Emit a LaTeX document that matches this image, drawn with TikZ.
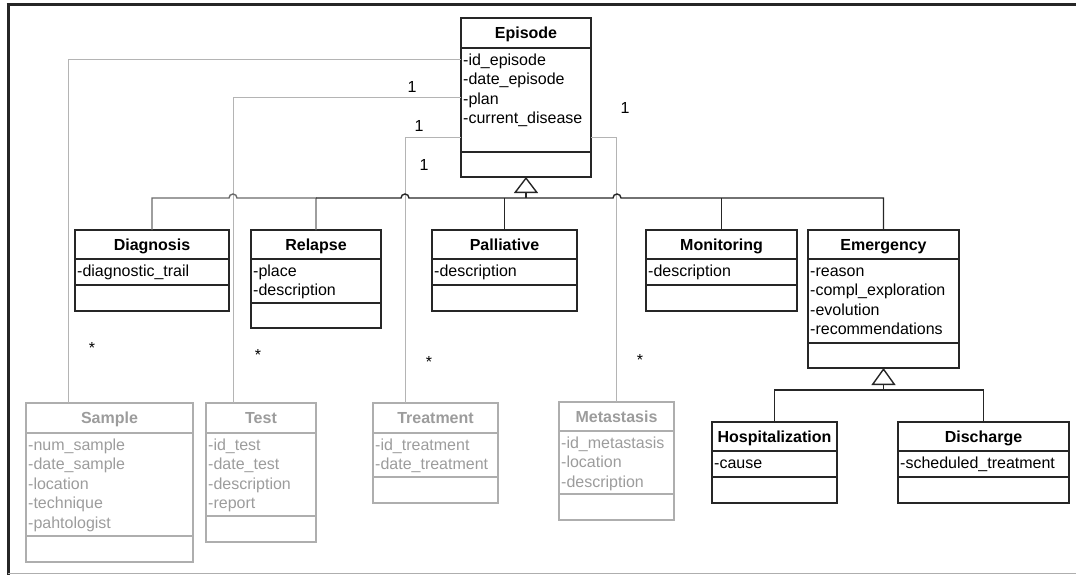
\documentclass[tikz,border=0pt]{standalone}
\usepackage{fontspec}
\setmainfont{Liberation Sans}
\usepackage{tikz}
\usetikzlibrary{arrows.meta}

\definecolor{boxline}{HTML}{262626}
\definecolor{midline}{HTML}{6A6A6A}
\definecolor{greyline}{HTML}{AEAEAE}
\definecolor{greytext}{HTML}{9C9C9C}
\definecolor{assocline}{HTML}{B4B4B4}

\begin{document}
\begin{tikzpicture}[x=1pt,y=-1pt,
  classbox/.style={draw=boxline, line width=1.4pt, inner sep=0pt, outer sep=0pt},
  greybox/.style={draw=greyline, line width=1.3pt, inner sep=0pt, outer sep=0pt},
  classname/.style={anchor=base, inner sep=0pt, font=\fontsize{16}{19.5}\selectfont\bfseries},
  classattr/.style={anchor=north west, align=left, inner sep=0pt, font=\fontsize{16}{19.5}\selectfont},
  mult/.style={inner sep=0pt, font=\fontsize{16}{19.5}\selectfont},
  genline/.style={draw=boxline, line width=1.4pt},
  assoc/.style={draw=assocline, line width=1pt}]
\useasboundingbox (0,0) rectangle (1076,575);
% frame
\draw [line width=3pt, color=boxline] (6.5,5) -- (1076,5);
\draw [line width=3pt, color=boxline] (8,3.5) -- (8,575);
\draw [line width=1pt, color=greyline] (8,573.5) -- (1076,573.5);
% Episode
\node [classbox, minimum width=130pt, minimum height=159pt] (episode) at (526,97.5) {};
\draw [classbox] (461,48) -- (591,48);
\draw [classbox] (461,152) -- (591,152);
\node [classname] (episode-name) at (526,38.5) {Episode};
\node [classattr] (episode-attr) at (463,51.35) {\strut-id\_episode\\-date\_episode\\-plan\\-current\_disease};
% Diagnosis
\node [classbox, minimum width=154pt, minimum height=81pt] (diagnosis) at (152,270.5) {};
\draw [classbox] (75,259) -- (229,259);
\draw [classbox] (75,285) -- (229,285);
\node [classname] (diagnosis-name) at (152,250.5) {Diagnosis};
\node [classattr] (diagnosis-attr) at (77,262.35) {\strut-diagnostic\_trail};
% Relapse
\node [classbox, minimum width=130pt, minimum height=98pt] (relapse) at (316,279) {};
\draw [classbox] (251,259) -- (381,259);
\draw [classbox] (251,303) -- (381,303);
\node [classname] (relapse-name) at (316,250.5) {Relapse};
\node [classattr] (relapse-attr) at (253,262.35) {\strut-place\\-description};
% Palliative
\node [classbox, minimum width=145pt, minimum height=81pt] (palliative) at (504.5,270.5) {};
\draw [classbox] (432,259) -- (577,259);
\draw [classbox] (432,285) -- (577,285);
\node [classname] (palliative-name) at (504.5,250.5) {Palliative};
\node [classattr] (palliative-attr) at (434,262.35) {\strut-description};
% Monitoring
\node [classbox, minimum width=151pt, minimum height=81pt] (monitoring) at (721.5,270.5) {};
\draw [classbox] (646,259) -- (797,259);
\draw [classbox] (646,285) -- (797,285);
\node [classname] (monitoring-name) at (721.5,250.5) {Monitoring};
\node [classattr] (monitoring-attr) at (648,262.35) {\strut-description};
% Emergency
\node [classbox, minimum width=151pt, minimum height=138pt] (emergency) at (883.5,299) {};
\draw [classbox] (808,259) -- (959,259);
\draw [classbox] (808,343) -- (959,343);
\node [classname] (emergency-name) at (883.5,250.5) {Emergency};
\node [classattr] (emergency-attr) at (810,262.35) {\strut-reason\\-compl\_exploration\\-evolution\\-recommendations};
% Hospitalization
\node [classbox, minimum width=125pt, minimum height=81pt] (hospitalization) at (774.5,462.5) {};
\draw [classbox] (712,451) -- (837,451);
\draw [classbox] (712,477) -- (837,477);
\node [classname] (hospitalization-name) at (774.5,442.5) {Hospitalization};
\node [classattr] (hospitalization-attr) at (714,454.35) {\strut-cause};
% Discharge
\node [classbox, minimum width=171pt, minimum height=81pt] (discharge) at (983.5,462.5) {};
\draw [classbox] (898,451) -- (1069,451);
\draw [classbox] (898,477) -- (1069,477);
\node [classname] (discharge-name) at (983.5,442.5) {Discharge};
\node [classattr] (discharge-attr) at (900,454.35) {\strut-scheduled\_treatment};
% Sample
\node [greybox, minimum width=167pt, minimum height=159pt] (sample) at (109.5,482.5) {};
\draw [greybox] (26,433) -- (193,433);
\draw [greybox] (26,536) -- (193,536);
\node [classname, text=greytext] (sample-name) at (109.5,423.5) {Sample};
\node [classattr, text=greytext] (sample-attr) at (28,436.35) {\strut-num\_sample\\-date\_sample\\-location\\-technique\\-pahtologist};
% Test
\node [greybox, minimum width=110pt, minimum height=139pt] (test) at (261,472.5) {};
\draw [greybox] (206,433) -- (316,433);
\draw [greybox] (206,516) -- (316,516);
\node [classname, text=greytext] (test-name) at (261,423.5) {Test};
\node [classattr, text=greytext] (test-attr) at (208,436.35) {\strut-id\_test\\-date\_test\\-description\\-report};
% Treatment
\node [greybox, minimum width=125pt, minimum height=100pt] (treatment) at (435.5,453) {};
\draw [greybox] (373,433) -- (498,433);
\draw [greybox] (373,477) -- (498,477);
\node [classname, text=greytext] (treatment-name) at (435.5,423.5) {Treatment};
\node [classattr, text=greytext] (treatment-attr) at (375,436.35) {\strut-id\_treatment\\-date\_treatment};
% Metastasis
\node [greybox, minimum width=115pt, minimum height=118pt] (metastasis) at (616.5,461) {};
\draw [greybox] (559,431) -- (674,431);
\draw [greybox] (559,494) -- (674,494);
\node [classname, text=greytext] (metastasis-name) at (616.5,422.5) {Metastasis};
\node [classattr, text=greytext] (metastasis-attr) at (561,434.35) {\strut-id\_metastasis\\-location\\-description};
% associations
\draw [assoc] ([yshift=-42pt]episode.north west) -| ([xshift=42pt]sample.north west);
\draw [assoc] ([yshift=-80pt]episode.north west) -| ([xshift=27pt]test.north west);
\draw [assoc] ([yshift=-120pt]episode.north west) -| ([xshift=32pt]treatment.north west);
\draw [assoc] ([yshift=-120pt]episode.north east) -| (metastasis.north);
\node [mult] (one-sample) at (412,87) {1};
\node [mult] (one-test) at (419,126) {1};
\node [mult] (one-treatment) at (424,165) {1};
\node [mult] (one-metastasis) at (625,108) {1};
\node [mult] (many-sample) at (92,348) {*};
\node [mult] (many-test) at (258,355) {*};
\node [mult] (many-treatment) at (429,362) {*};
\node [mult] (many-metastasis) at (640,360) {*};
% generalization
\draw [genline, draw=midline] (diagnosis.north) |- (229,198) arc [start angle=180, end angle=0, radius=4pt]
  -- (relapse.north |- 0,198) -- (relapse.north);
\draw [genline] (relapse.north |- 0,198) -- (401,198) arc [start angle=180, end angle=0, radius=4pt]
  -- (613,198) arc [start angle=180, end angle=0, radius=4pt]
  -| (emergency.north);
\draw [genline] (palliative.north) -- (palliative.north |- 0,198);
\draw [genline] (monitoring.north) -- (monitoring.north |- 0,198);
\draw [genline, -{Triangle[open, length=16pt, width=24pt, line width=1.4pt]}] (episode.south |- 0,198) -- (episode.south);
\draw [genline] (hospitalization.north) |- (983.5,390) -- (discharge.north);
\draw [genline, -{Triangle[open, length=17pt, width=24pt, line width=1.4pt]}] (emergency.south |- 0,390) -- (emergency.south);
\end{tikzpicture}
\end{document}
